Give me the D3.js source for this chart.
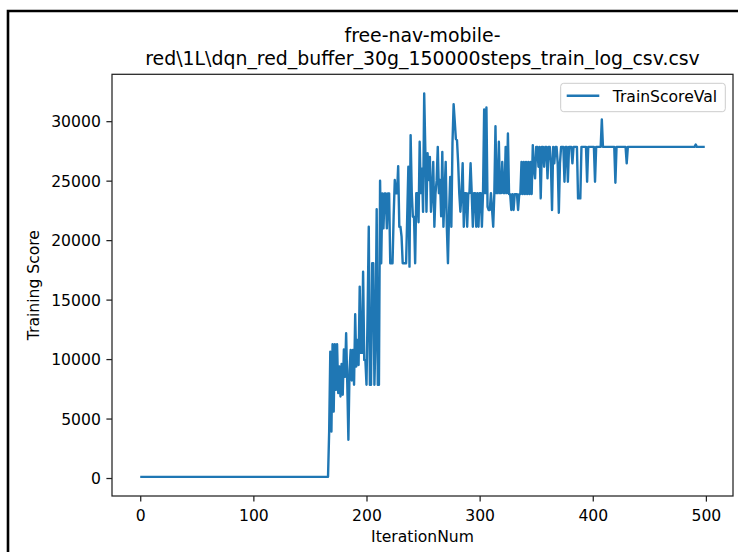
<!DOCTYPE html>
<html>
<head>
<meta charset="utf-8">
<script src="https://cdn.jsdelivr.net/npm/d3@7"></script>
<style>
    body { margin: 0; background: #fff; }
    svg { display: block; font-family: "DejaVu Sans", sans-serif; }
</style>
</head>
<body>
<svg width="738" height="552"></svg>
<script>
var titleLines = ["free-nav-mobile-", "red\\1L\\dqn_red_buffer_30g_150000steps_train_log_csv.csv"];
var xLabel = "IterationNum";
var yLabel = "Training Score";
var seriesName = "TrainScoreVal";
var xTicks = [0, 100, 200, 300, 400, 500];
var yTicks = [0, 5000, 10000, 15000, 20000, 25000, 30000];

// one value per iteration, 0..499
var scores = [
    100, 100, 100, 100, 100, 100, 100, 100, 100, 100,
    100, 100, 100, 100, 100, 100, 100, 100, 100, 100,
    100, 100, 100, 100, 100, 100, 100, 100, 100, 100,
    100, 100, 100, 100, 100, 100, 100, 100, 100, 100,
    100, 100, 100, 100, 100, 100, 100, 100, 100, 100,
    100, 100, 100, 100, 100, 100, 100, 100, 100, 100,
    100, 100, 100, 100, 100, 100, 100, 100, 100, 100,
    100, 100, 100, 100, 100, 100, 100, 100, 100, 100,
    100, 100, 100, 100, 100, 100, 100, 100, 100, 100,
    100, 100, 100, 100, 100, 100, 100, 100, 100, 100,
    100, 100, 100, 100, 100, 100, 100, 100, 100, 100,
    100, 100, 100, 100, 100, 100, 100, 100, 100, 100,
    100, 100, 100, 100, 100, 100, 100, 100, 100, 100,
    100, 100, 100, 100, 100, 100, 100, 100, 100, 100,
    100, 100, 100, 100, 100, 100, 100, 100, 100, 100,
    100, 100, 100, 100, 100, 100, 100, 100, 100, 100,
    100, 100, 100, 100, 100, 100, 100, 3900, 10630, 3910,
    11250, 5590, 11250, 7410, 11250, 7140, 9370, 6850, 9600, 7000,
    10800, 8500, 12170, 8000, 3220, 9000, 10770, 8200, 10770, 7840,
    13770, 9370, 11610, 9500, 16090, 10520, 10520, 17350, 9930, 9930,
    7840, 14000, 21130, 7840, 7840, 18050, 18050, 7840, 12000, 22590,
    7840, 7840, 24990, 18050, 23930, 20990, 23930, 23930, 20990, 23930,
    23930, 18050, 18050, 18050, 22000, 25050, 23930, 23930, 26220, 21130,
    21130, 20290, 18050, 18050, 18050, 18050, 22000, 26170, 17770, 28830,
    24000, 21960, 21960, 18050, 23950, 23950, 21500, 28270, 23950, 26000,
    22390, 32330, 27570, 22390, 27300, 25050, 27000, 22390, 24000, 26580,
    21130, 23950, 25000, 27840, 23950, 25050, 22000, 27420, 21130, 23950,
    26580, 21130, 18050, 22390, 25320, 21130, 28150, 31430, 30000, 28500,
    28400, 26500, 23950, 22390, 23950, 26470, 21130, 23950, 23950, 21130,
    23950, 23950, 26470, 23950, 21130, 23950, 23950, 21130, 23950, 21130,
    23950, 23950, 21130, 23950, 30980, 23950, 31150, 22800, 22530, 22530,
    23950, 22530, 21130, 23950, 29580, 23950, 23950, 28270, 23950, 23950,
    26580, 23950, 23950, 27840, 23950, 28970, 23870, 23870, 22530, 23870,
    22530, 23870, 23870, 23870, 22530, 23870, 23870, 26580, 23870, 26580,
    23870, 26580, 23870, 26580, 23870, 26580, 23870, 27990, 26000, 25190,
    27840, 27840, 26170, 27840, 23510, 27840, 27840, 26170, 27840, 27840,
    25190, 27840, 27840, 26450, 22530, 27840, 26450, 27840, 27840, 26450,
    22300, 26450, 27840, 27840, 27840, 24910, 27840, 27840, 24910, 27840,
    27840, 27840, 26450, 27840, 27840, 27840, 27840, 23510, 23510, 23510,
    27840, 27840, 27840, 27840, 27840, 24910, 27840, 27840, 27840, 27840,
    27840, 27840, 24910, 27840, 27840, 27840, 27840, 27840, 30140, 27840,
    27840, 27840, 27840, 27840, 27840, 27840, 27840, 27840, 27840, 27840,
    24820, 27840, 27840, 27840, 27840, 27840, 27840, 27840, 27840, 27840,
    26450, 27840, 27840, 27840, 27840, 27840, 27840, 27840, 27840, 27840,
    27840, 27840, 27840, 27840, 27840, 27840, 27840, 27840, 27840, 27840,
    27840, 27840, 27840, 27840, 27840, 27840, 27840, 27840, 27840, 27840,
    27840, 27840, 27840, 27840, 27840, 27840, 27840, 27840, 27840, 27840,
    27840, 27840, 27840, 27840, 27840, 27840, 27840, 27840, 27840, 27840,
    27840, 27840, 27840, 27840, 27840, 27840, 27840, 27840, 27840, 27840,
    27840, 28040, 27840, 27840, 27840, 27840, 27840, 27840, 27840, 27840
];

var svg = d3.select("svg");
var plotLeft = 112, plotRight = 733, plotTop = 74.3, plotBottom = 496;
var fontSize = 15.6;

// screenshot frame
svg.append("path")
    .attr("d", "M8,552V11H738")
    .attr("fill", "none")
    .attr("stroke", "#000")
    .attr("stroke-width", 2.6);

// matplotlib-like 5% margins
var n = scores.length;
var xPad = 0.05 * (n - 1);
var x = d3.scaleLinear()
    .domain([-xPad, n - 1 + xPad])
    .range([plotLeft, plotRight]);

var yMin = d3.min(scores), yMax = d3.max(scores);
var yPad = 0.05 * (yMax - yMin);
var y = d3.scaleLinear()
    .domain([yMin - yPad, yMax + yPad])
    .range([plotBottom, plotTop]);

var line = d3.line()
    .x(function (d, i) { return x(i); })
    .y(function (d) { return y(d); });

svg.append("path")
    .datum(scores)
    .attr("d", line)
    .attr("fill", "none")
    .attr("stroke", "#1f77b4")
    .attr("stroke-width", 2.4)
    .attr("stroke-linejoin", "round");

var xAxis = svg.append("g")
    .attr("transform", "translate(0," + plotBottom + ")")
    .call(d3.axisBottom(x).tickValues(xTicks).tickFormat(d3.format("d"))
        .tickSize(5.6).tickPadding(8.4));

var yAxis = svg.append("g")
    .attr("transform", "translate(" + plotLeft + ",0)")
    .call(d3.axisLeft(y).tickValues(yTicks).tickFormat(d3.format("d"))
        .tickSize(5.6).tickPadding(5.6));

[xAxis, yAxis].forEach(function (g) {
    g.select(".domain").remove();
    g.attr("font-family", null).attr("font-size", null);
    g.selectAll(".tick line").attr("stroke", "#222").attr("stroke-width", 1.25);
    g.selectAll(".tick text").attr("fill", "#000").style("font-size", fontSize + "px");
});
yAxis.selectAll(".tick text").attr("dy", "0.36em");

// frame
svg.append("rect")
    .attr("x", plotLeft)
    .attr("y", plotTop)
    .attr("width", plotRight - plotLeft)
    .attr("height", plotBottom - plotTop)
    .attr("fill", "none")
    .attr("stroke", "#222")
    .attr("stroke-width", 1.25);

// titles
svg.append("text")
    .attr("text-anchor", "middle")
    .style("font-size", "18.9px")
    .selectAll("tspan")
    .data(titleLines)
    .enter().append("tspan")
    .attr("x", (plotLeft + plotRight) / 2)
    .attr("y", function (d, i) { return 64.9 - (titleLines.length - 1 - i) * 22.7; })
    .text(function (d) { return d; });

svg.append("text")
    .attr("x", (plotLeft + plotRight) / 2)
    .attr("y", 542)
    .attr("text-anchor", "middle")
    .style("font-size", fontSize + "px")
    .text(xLabel);

svg.append("text")
    .attr("transform", "translate(39.4," + (plotTop + plotBottom) / 2 + ") rotate(-90)")
    .attr("text-anchor", "middle")
    .style("font-size", fontSize + "px")
    .text(yLabel);

// legend
var legend = svg.append("g");
legend.append("rect")
    .attr("x", 560.7)
    .attr("y", 83.3)
    .attr("width", 164.6)
    .attr("height", 28.4)
    .attr("rx", 3)
    .attr("fill", "#fff")
    .attr("fill-opacity", 0.8)
    .attr("stroke", "#ccc");
legend.append("line")
    .attr("x1", 566.7)
    .attr("x2", 599.3)
    .attr("y1", 95.7)
    .attr("y2", 95.7)
    .attr("stroke", "#1f77b4")
    .attr("stroke-width", 2.4);
legend.append("text")
    .attr("x", 612.7)
    .attr("y", 101.7)
    .style("font-size", fontSize + "px")
    .text(seriesName);
</script>
</body>
</html>
